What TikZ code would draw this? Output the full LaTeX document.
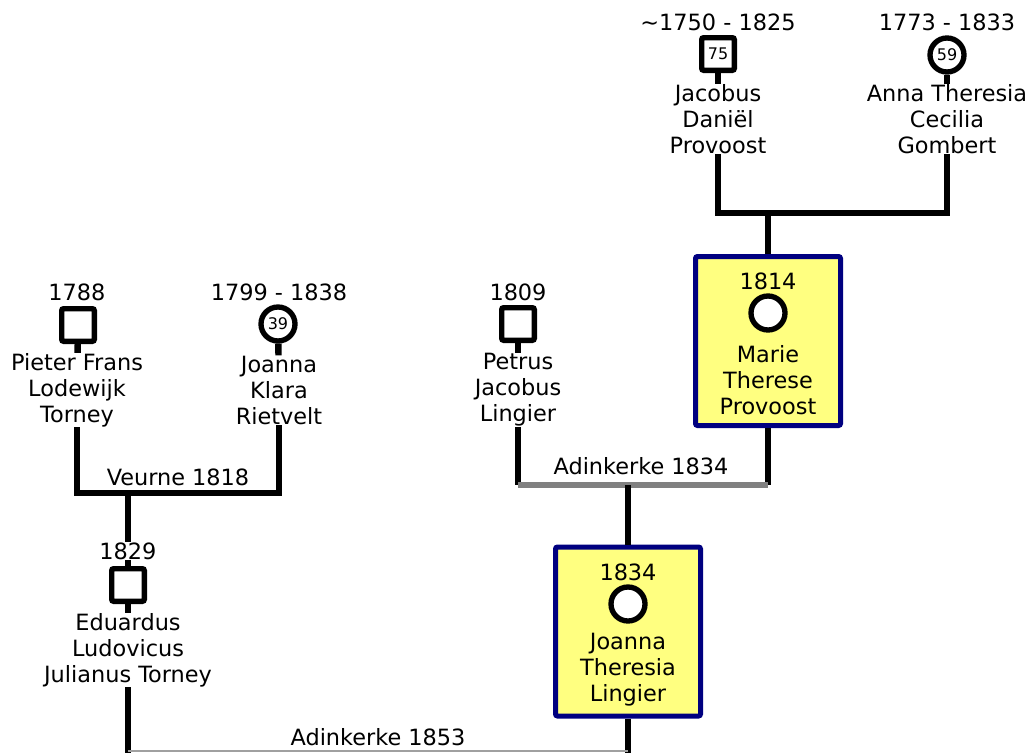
\documentclass[tikz,border=0pt]{standalone}
\usepackage{fontspec}
\setmainfont{DejaVu Sans}
\usetikzlibrary{positioning}

\definecolor{boxfill}{HTML}{FFFF80}
\definecolor{boxrand}{HTML}{000080}
\definecolor{bargray}{HTML}{808080}
\definecolor{lightbar}{HTML}{A0A0A0}

\tikzset{
  male/.style={draw, line width=4pt, rounded corners=1.5pt, fill=white,
    minimum size=24.5pt, inner sep=0pt, font=\fontsize{12}{14}\selectfont},
  female/.style={circle, draw, line width=4pt, fill=white,
    minimum size=25.5pt, inner sep=0pt, font=\fontsize{12}{14}\selectfont},
  person/.style={align=center, inner sep=0pt, font=\fontsize{16.8}{19.5}\selectfont},
  focusbox/.style={draw=boxrand, fill=boxfill, line width=3.75pt, rounded corners=1.5pt,
    minimum width=108.75pt, minimum height=126.75pt, inner sep=0pt},
  famline/.style={line width=4.8pt},
  marbar/.style={draw=bargray, line width=4pt},
  thinbar/.style={draw=lightbar, line width=1.5pt},
}

\begin{document}
\begin{tikzpicture}[x=0.75pt, y=-0.75pt]
    \useasboundingbox (0,0) rectangle (1031,753);

    % Grandparents Provoost - Gombert
    \node[person] (jacdate) at (718,22) {\textasciitilde1750 - 1825};
    \node[male] (jac) at (718,54) {75};
    \node[person] (jacname) at (718,119) {Jacobus\\Daniël\\Provoost};
    \node[person] (annadate) at (947,22) {1773 - 1833};
    \node[female] (anna) at (947,55) {59};
    \node[person] (annaname) at (947,119) {Anna Theresia\\Cecilia\\Gombert};
    \draw[famline] (jac) -- (jacname);
    \draw[famline] (anna) -- (annaname);
    \coordinate (jacbar) at (768,213);
    \draw[famline] (jacname.south) |- (jacbar) -| (annaname.south);

    % Marie Therese Provoost
    \node[focusbox] (marie) at (768,341) {};
    \node[person] (mariedate) at (768,281) {1814};
    \node[female] (mariesym) at (768,313) {};
    \node[person] (mariename) at (768,380) {Marie\\Therese\\Provoost};
    \draw[famline] (jacbar) -- (marie.north);

    % Petrus Jacobus Lingier
    \node[person] (petdate) at (518,292) {1809};
    \node[male] (pet) at (518,324) {};
    \node[person] (petname) at (518,390) {Petrus\\Jacobus\\Lingier};
    \draw[famline] (pet) -- (petname);

    % Marriage Adinkerke 1834
    \coordinate (adkbar) at (628,485);
    \draw[famline] (petname.south) -- (petname.south |- adkbar);
    \draw[famline] (marie.south) -- (marie.south |- adkbar);
    \draw[marbar] (petname.south |- adkbar) -- (marie.south |- adkbar);
    \node[person] (adklabel) at (641,466) {Adinkerke 1834};

    % Joanna Theresia Lingier
    \node[focusbox] (joth) at (628,631.5) {};
    \node[person] (jothdate) at (628,572) {1834};
    \node[female] (jothsym) at (628,604) {};
    \node[person] (jothname) at (628,670) {Joanna\\Theresia\\Lingier};
    \draw[famline] (adkbar) -- (joth.north);

    % Grandparents Torney - Rietvelt
    \node[person] (pietdate) at (77,292) {1788};
    \node[male] (piet) at (78,325) {};
    \node[person] (pietname) at (77,390) {Pieter Frans\\Lodewijk\\Torney};
    \node[person] (jokdate) at (279,292) {1799 - 1838};
    \node[female] (jok) at (278,324) {39};
    \node[person] (jokname) at (279,390) {Joanna\\Klara\\Rietvelt};
    \draw[famline] (piet) -- (pietname);
    \draw[famline] (jok) -- (jokname);
    \coordinate (veurbar) at (128,493);
    \draw[famline] (pietname.south) |- (veurbar) -| (jokname.south);
    \node[person] (veurlabel) at (178,477) {Veurne 1818};

    % Eduardus Ludovicus Julianus Torney
    \node[person] (edudate) at (128,551) {1829};
    \node[male] (edu) at (128,585) {};
    \node[person] (eduname) at (128,650) {Eduardus\\Ludovicus\\Julianus Torney};
    \draw[famline] (veurbar) -- (edudate);
    \draw[famline] (edudate) -- (edu);
    \draw[famline] (edu) -- (eduname);

    % Marriage Adinkerke 1853
    \coordinate (edubar) at (128,751);
    \coordinate (jothbar) at (628,751);
    \draw[famline] (eduname.south) -- (128,753);
    \draw[famline] (joth.south) -- (628,753);
    \draw[thinbar] (edubar) -- (jothbar);
    \node[person] (adk2label) at (378,737) {Adinkerke 1853};
\end{tikzpicture}
\end{document}
